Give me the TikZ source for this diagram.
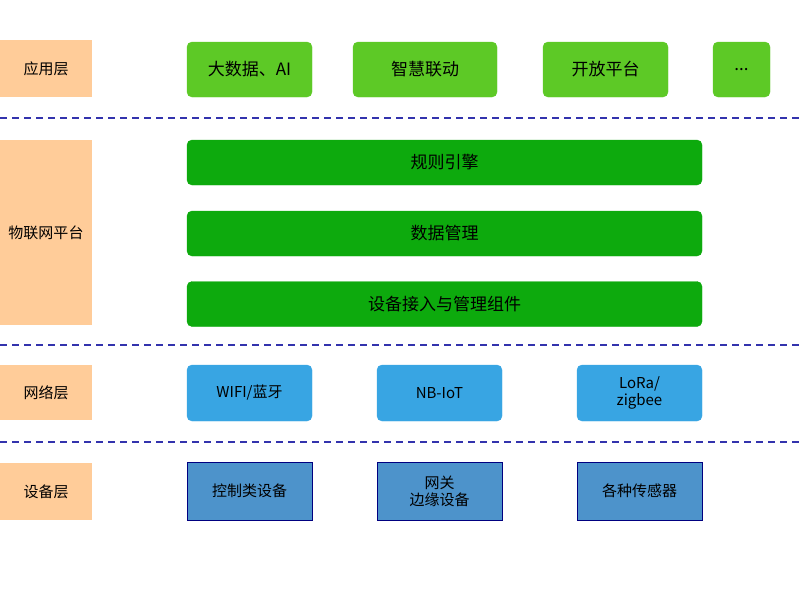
\documentclass[tikz,border=0pt]{standalone}
\usepackage{fontspec}
\setmainfont{Noto Sans CJK SC}
\begin{document}
\begin{tikzpicture}[x=1pt,y=-1pt]
	\tikzstyle{Layer} = [fill=orange!40, minimum width=92, inner sep=0pt, font=\fontsize{15}{18}\selectfont]
	\tikzstyle{App} = [rounded corners=5, fill=green!55!lime!75!black!85, inner sep=0pt, font=\fontsize{17}{20}\selectfont, draw=green!55!lime!75!black!85]
	\tikzstyle{Core} = [rounded corners=5, fill=green!65!black!95, draw=green!65!black!95, minimum width=515, minimum height=45, inner sep=0pt, font=\fontsize{17}{20}\selectfont]
	\tikzstyle{Net} = [rounded corners=5, fill=cyan!80!blue!80, draw=cyan!80!blue!80, minimum width=125, minimum height=56, inner sep=0pt, align=center, font=\fontsize{15}{17}\selectfont]
	\tikzstyle{Dev} = [fill=blue!45!cyan!55!gray!90, draw=blue!50!black, minimum width=125, minimum height=58, inner sep=0pt, align=center, font=\fontsize{15}{17}\selectfont]
	\tikzstyle{Sep} = [draw=blue!60!black!80, line width=2pt, dash pattern=on 7pt off 5pt]
	\useasboundingbox (0,0) rectangle (800,600);
	% layers
	\node (L1) at (46,68.5) [Layer, minimum height=57] {应用层};
	\node (L2) at (46,232.5) [Layer, minimum height=185] {物联网平台};
	\node (L3) at (46,392.5) [Layer, minimum height=55] {网络层};
	\node (L4) at (46,491.5) [Layer, minimum height=57] {设备层};
	% application
	\node (A1) at (249.5,69.5) [App, minimum width=125, minimum height=55] {大数据、AI};
	\node (A2) at (425,69.5) [App, minimum width=144, minimum height=55] {智慧联动};
	\node (A3) at (605.5,69.5) [App, minimum width=125, minimum height=55] {开放平台};
	\node (A4) at (741.5,69.5) [App, minimum width=57, minimum height=55] {...};
	% platform
	\node (P1) at (444.5,162.5) [Core] {规则引擎};
	\node (P2) at (444.5,233.5) [Core] {数据管理};
	\node (P3) at (444.5,304) [Core] {设备接入与管理组件};
	% network
	\node (N1) at (249.5,393) [Net] {WIFI/蓝牙};
	\node (N2) at (439.5,393) [Net] {NB-IoT};
	\node (N3) at (639.5,393) [Net] {LoRa/\\zigbee};
	% devices
	\node (D1) at (249.5,491) [Dev] {控制类设备};
	\node (D2) at (439.5,491) [Dev] {网关\\边缘设备};
	\node (D3) at (639.5,491) [Dev] {各种传感器};
	% separators
	\coordinate (S1a) at (0,118); \coordinate (S1b) at (800,118);
	\coordinate (S2a) at (0,345); \coordinate (S2b) at (800,345);
	\coordinate (S3a) at (0,442); \coordinate (S3b) at (800,442);
	\draw[Sep] (S1a) -- (S1b);
	\draw[Sep] (S2a) -- (S2b);
	\draw[Sep] (S3a) -- (S3b);
\end{tikzpicture}
\end{document}
